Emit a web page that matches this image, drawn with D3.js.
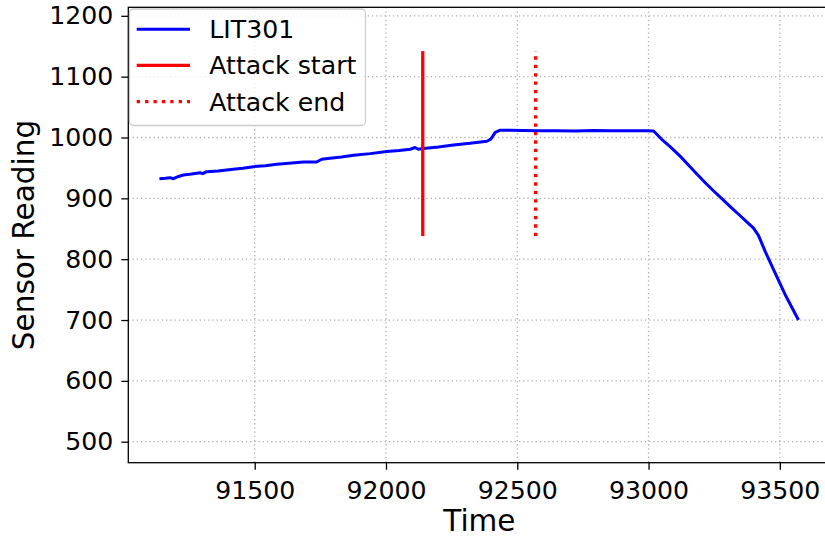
<!DOCTYPE html>
<html>
<head>
<meta charset="utf-8">
<script src="https://cdn.jsdelivr.net/npm/d3@7"></script>
<style>
  html, body { margin: 0; padding: 0; background: #fff; }
  svg { display: block; font-family: "DejaVu Sans", sans-serif; }
</style>
</head>
<body>
<svg id="chart" width="825" height="537"></svg>
<script>
// LIT301 level readings over time
const times = [91137, 91160, 91177, 91190, 91210, 91228, 91260, 91292, 91302, 91317, 91360, 91418,
  91455, 91495, 91540, 91584, 91630, 91685, 91736, 91755, 91787, 91830, 91876, 91940, 92003,
  92050, 92092, 92111, 92123, 92142, 92200, 92257, 92320, 92384, 92399, 92416, 92435, 92472,
  92520, 92580, 92650, 92720, 92790, 92860, 92930, 92990, 93019, 93050, 93083, 93121, 93150,
  93184, 93215, 93248, 93280, 93311, 93345, 93375, 93400, 93419, 93445, 93476, 93520, 93571];
const lit301 = [932.3, 933.0, 934.0, 932.3, 936.0, 938.3, 940.0, 942.2, 940.6, 943.9, 945.0, 947.7,
  949.5, 952.1, 953.5, 955.9, 957.5, 959.7, 959.7, 964.2, 965.8, 968.0, 970.8, 973.5, 976.9,
  978.5, 980.7, 983.5, 980.7, 981.8, 984.5, 987.8, 990.5, 993.9, 997.2, 1008.3, 1012.0, 1012.0,
  1011.5, 1011.0, 1011.3, 1010.8, 1011.4, 1011.0, 1011.2, 1011.0, 1010.8, 997.0, 984.5, 969.0, 955.5,
  940.0, 926.0, 912.0, 899.0, 886.5, 873.0, 861.0, 851.0, 838.8, 812.0, 782.7, 742.0, 700.0];

// Attack window markers
const attackStart = 92140;
const attackEnd = 92570;
const markerRange = [838, 1142];

const xTicks = [91500, 92000, 92500, 93000, 93500];
const yTicks = [500, 600, 700, 800, 900, 1000, 1100, 1200];

const legendLabels = ["LIT301", "Attack start", "Attack end"];

const svg = d3.select("#chart");
const plotLeft = 128.3, plotRight = 830.5, plotTop = 7.3, plotBottom = 462.7;
const tickFont = "25.2px", labelFont = "29.5px";

const x = d3.scaleLinear().domain([91018.5, 93693]).range([plotLeft, plotRight]);
const y = d3.scaleLinear().domain([465.5, 1214]).range([plotBottom, plotTop]);

// grid
const grid = svg.append("g");
grid.selectAll("line.gx").data(xTicks).join("line")
  .attr("x1", d => x(d)).attr("x2", d => x(d))
  .attr("y1", plotTop).attr("y2", plotBottom)
  .attr("stroke", "#b0b0b0").attr("stroke-width", 1.3)
  .attr("stroke-dasharray", "1.3,2.9");
grid.selectAll("line.gy").data(yTicks).join("line")
  .attr("x1", plotLeft).attr("x2", plotRight)
  .attr("y1", d => y(d)).attr("y2", d => y(d))
  .attr("stroke", "#b0b0b0").attr("stroke-width", 1.3)
  .attr("stroke-dasharray", "1.3,2.9");

// series
const pts = times.map((t, i) => [t, lit301[i]]);
svg.append("path")
  .datum(pts)
  .attr("fill", "none")
  .attr("stroke", "#0000ff")
  .attr("stroke-width", 3)
  .attr("stroke-linejoin", "round")
  .attr("d", d3.line().x(d => x(d[0])).y(d => y(d[1])));

svg.append("line")
  .attr("x1", x(attackStart)).attr("x2", x(attackStart))
  .attr("y1", y(markerRange[0])).attr("y2", y(markerRange[1]))
  .attr("stroke", "#ff0000").attr("stroke-width", 3.3);

svg.append("line")
  .attr("x1", x(attackEnd)).attr("x2", x(attackEnd))
  .attr("y1", y(markerRange[0])).attr("y2", y(markerRange[1]))
  .attr("stroke", "#ff0000").attr("stroke-width", 3.3)
  .attr("stroke-dasharray", "3.3,5.1");

// axes
const xAxis = svg.append("g")
  .attr("transform", `translate(0,${plotBottom})`)
  .call(d3.axisBottom(x).tickValues(xTicks).tickSize(7).tickPadding(8).tickFormat(d3.format("d")));
const yAxis = svg.append("g")
  .attr("transform", `translate(${plotLeft},0)`)
  .call(d3.axisLeft(y).tickValues(yTicks).tickSize(7).tickPadding(8).tickFormat(d3.format("d")));
[xAxis, yAxis].forEach(g => {
  g.select(".domain").remove();
  g.selectAll(".tick line").attr("stroke", "#000").attr("stroke-width", 1.3);
  g.selectAll(".tick text").attr("fill", "#000")
    .style("font-size", tickFont).style("font-family", "DejaVu Sans, sans-serif");
});
xAxis.selectAll(".tick text").attr("dy", "0.86em");

// spines
svg.append("rect")
  .attr("x", plotLeft).attr("y", plotTop)
  .attr("width", plotRight - plotLeft).attr("height", plotBottom - plotTop)
  .attr("fill", "none").attr("stroke", "#000").attr("stroke-width", 1.3);

// axis labels
svg.append("text")
  .attr("x", (plotLeft + plotRight) / 2).attr("y", 531)
  .attr("text-anchor", "middle")
  .style("font-size", labelFont)
  .text("Time");
svg.append("text")
  .attr("transform", `translate(34,${(plotTop + plotBottom) / 2}) rotate(-90)`)
  .attr("text-anchor", "middle")
  .style("font-size", labelFont)
  .text("Sensor Reading");

// legend
const lg = svg.append("g");
lg.append("rect")
  .attr("x", 129.5).attr("y", 9).attr("width", 236).attr("height", 116.5)
  .attr("rx", 4)
  .attr("fill", "#fff").attr("fill-opacity", 0.8)
  .attr("stroke", "#cccccc").attr("stroke-width", 1.3);
const rows = [29.3, 65.3, 101.7];
const styles = [
  { color: "#0000ff", dash: null, w: 3 },
  { color: "#ff0000", dash: null, w: 3.3 },
  { color: "#ff0000", dash: "3.3,5.1", w: 3.3 }
];
legendLabels.forEach((label, i) => {
  lg.append("line")
    .attr("x1", 136.7).attr("x2", 190)
    .attr("y1", rows[i]).attr("y2", rows[i])
    .attr("stroke", styles[i].color).attr("stroke-width", styles[i].w)
    .attr("stroke-dasharray", styles[i].dash);
  lg.append("text")
    .attr("x", 209.3).attr("y", rows[i])
    .attr("dy", "0.36em")
    .style("font-size", tickFont)
    .text(label);
});
</script>
</body>
</html>
